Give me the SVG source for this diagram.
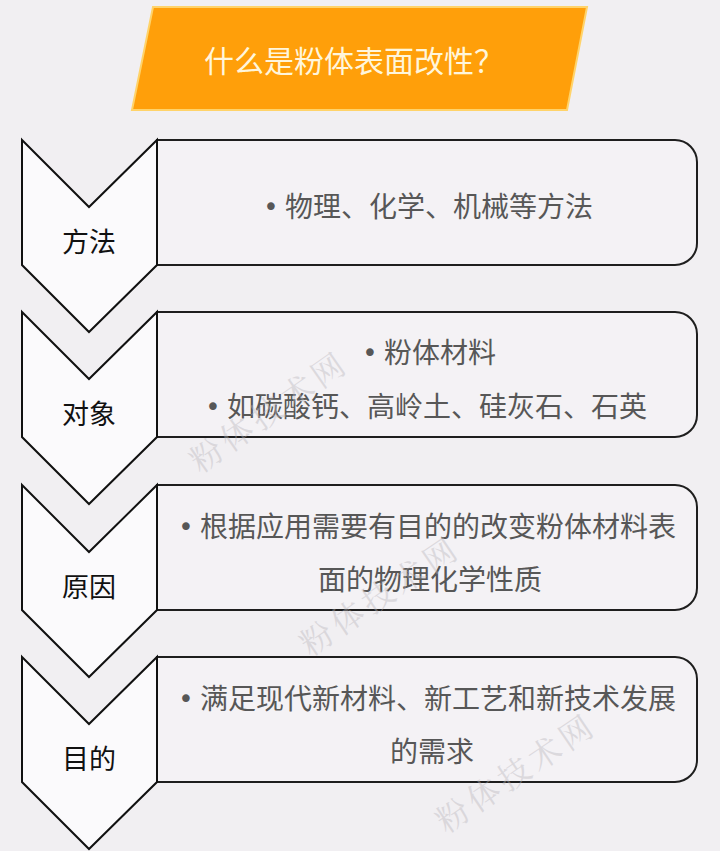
<svg xmlns="http://www.w3.org/2000/svg" width="720" height="851" viewBox="0 0 720 851">
<style>
.bg{fill:#f1eff2}
.box{fill:#f4f2f5;stroke:#1e1e1e;stroke-width:2}
.chev{fill:#fbfafc;stroke:#111;stroke-width:2;stroke-linejoin:miter}
.lbl{font-family:"Noto Sans CJK SC","Noto Sans CJK JP",sans-serif;font-size:27px;fill:#111;text-anchor:middle}
.txt{font-family:"Noto Sans CJK SC","Noto Sans CJK JP",sans-serif;font-size:28px;fill:#575757}
.bul{font-family:"DejaVu Sans",sans-serif;font-size:26px;fill:#575757;text-anchor:middle}
.ttl{font-family:"Noto Sans CJK SC","Noto Sans CJK JP",sans-serif;font-size:30px;fill:#fff6dc;text-anchor:middle}
.wm{font-family:"Noto Serif CJK SC","Noto Sans CJK SC",serif;font-size:32px;fill:#b8b4ba;opacity:0.4;letter-spacing:5px}
</style>
<rect class="bg" x="0" y="0" width="720" height="851"/>

<g id="title">
<polygon points="153,7 587,7 567,110 132,110" fill="#ff9f0a" stroke="#ffd36a" stroke-width="2"/>
<text class="ttl" x="354" y="72">什么是粉体表面改性？</text>
</g>

<g id="connectors"></g>

<g id="step1">
<path class="box" d="M157,140 H675 A22,22 0 0 1 697,162 V243 A22,22 0 0 1 675,265 H157 Z"/>
<polygon class="chev" points="22,140 89,207 157,140 157,265 89,332 22,265"/>
<text class="lbl" x="89" y="252">方法</text>
<text class="bul" x="271" y="216">•</text>
<text class="txt" x="285" y="217">物理、化学、机械等方法</text>
</g>

<g id="step2">
<path class="box" d="M157,312 H675 A22,22 0 0 1 697,334 V415 A22,22 0 0 1 675,437 H157 Z"/>
<polygon class="chev" points="22,312 89,379 157,312 157,437 89,504 22,437"/>
<text class="lbl" x="89" y="424">对象</text>
<text class="bul" x="370" y="362">•</text>
<text class="txt" x="384" y="363">粉体材料</text>
<text class="bul" x="213" y="416">•</text>
<text class="txt" x="227" y="417">如碳酸钙、高岭土、硅灰石、石英</text>
</g>

<g id="step3">
<path class="box" d="M157,485 H675 A22,22 0 0 1 697,507 V588 A22,22 0 0 1 675,610 H157 Z"/>
<polygon class="chev" points="22,485 89,552 157,485 157,610 89,677 22,610"/>
<text class="lbl" x="89" y="597">原因</text>
<text class="bul" x="186" y="536">•</text>
<text class="txt" x="200" y="537">根据应用需要有目的的改变粉体材料表</text>
<text class="txt" x="318" y="590">面的物理化学性质</text>
</g>

<g id="step4">
<path class="box" d="M157,657 H675 A22,22 0 0 1 697,679 V760 A22,22 0 0 1 675,782 H157 Z"/>
<polygon class="chev" points="22,657 89,724 157,657 157,782 89,849 22,782"/>
<text class="lbl" x="89" y="769">目的</text>
<text class="bul" x="186" y="708">•</text>
<text class="txt" x="200" y="709">满足现代新材料、新工艺和新技术发展</text>
<text class="txt" x="390" y="762">的需求</text>
</g>

<g id="watermarks">
<text class="wm" transform="translate(200,474) rotate(-35)">粉体技术网</text>
<text class="wm" transform="translate(310,657) rotate(-34)">粉体技术网</text>
<text class="wm" transform="translate(446,834) rotate(-34)">粉体技术网</text>
</g>
</svg>
